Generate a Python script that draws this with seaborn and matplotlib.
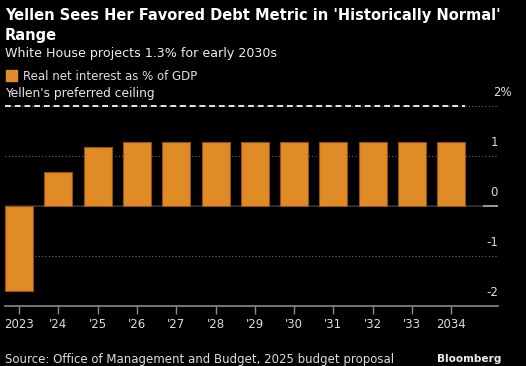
import matplotlib
matplotlib.use("Agg")
import matplotlib.pyplot as plt
import matplotlib.patches as mpatches
import seaborn as sns
import pandas as pd

years = ["2023", "'24", "'25", "'26", "'27", "'28", "'29", "'30", "'31", "'32", "'33", "2034"]
real_net_interest = [-1.69, 0.69, 1.18, 1.28, 1.28, 1.28, 1.28, 1.28, 1.28, 1.28, 1.28, 1.28]
y_ticks = [-2, -1, 0, 1, 2]
y_labels = ["-2", "-1", "0", "1", "2%"]
ceiling = 2

ORANGE = "#e08b26"
W, H = 526, 366

sns.set_theme(style="dark", rc={"figure.facecolor": "black", "axes.facecolor": "black"})
plt.rcParams["font.family"] = ["DejaVu Sans"]

df = pd.DataFrame({"year": years, "value": real_net_interest})

fig = plt.figure(figsize=(W / 100, H / 100), dpi=100)
# axes: x 5..498 px, y 91..306 px
ax = fig.add_axes([5 / W, (H - 306) / H, 493 / W, 215 / H])
ax.set_facecolor("black")

sns.barplot(data=df, x="year", y="value", color=ORANGE, width=0.71,
            edgecolor="#8a5416", linewidth=0.8, saturation=1, ax=ax, zorder=3)

ax.set_xlim(-0.36, 12.19)
ax.set_ylim(-2, 2.3)

# gridlines
for t in y_ticks[1:]:
    ax.axhline(t, color="#6a6a6a", lw=0.8, ls=(0, (1, 2)), zorder=1)
ax.axhline(0, color="#333333", lw=1.2, zorder=2)
ax.hlines(0, 11.8, 12.19, color="#9a9a9a", lw=1.4, zorder=2)
# ceiling line
ax.hlines(ceiling, -0.36, 11.36, color="#e6e6e6", lw=1.4, ls=(0, (3, 2)), zorder=4)
ax.text(0.0, ceiling + 0.12, "Yellen's preferred ceiling", transform=ax.get_yaxis_transform(),
        color="#e6e6e6", fontsize=8.8, ha="left", va="bottom")

# y labels above gridlines on right
ytrans = ax.get_yaxis_transform()
for t, lab in zip(y_ticks, y_labels):
    if lab.endswith("%"):
        ax.text(1 - 5 / 493, t + 0.28, lab, transform=ytrans,
                color="#dddddd", fontsize=8.5, ha="left", va="center")
    else:
        ax.text(1.0, t + 0.28, lab, transform=ytrans,
                color="#dddddd", fontsize=8.5, ha="right", va="center")

ax.set_yticks([])
ax.set_xlabel("")
ax.set_ylabel("")
for side in ["top", "right", "left"]:
    ax.spines[side].set_visible(False)
ax.spines["bottom"].set_visible(True)
ax.spines["bottom"].set_color("#8a8a8a")
ax.spines["bottom"].set_linewidth(1.2)
ax.tick_params(axis="x", colors="#8a8a8a", length=6, width=1, direction="out",
               labelcolor="#dddddd", labelsize=8.5, pad=3, bottom=True)

# header
fig.text(5 / W, 1 - 20 / H, "Yellen Sees Her Favored Debt Metric in 'Historically Normal'",
         color="white", fontsize=10.5, fontweight="bold", ha="left", va="baseline")
fig.text(5 / W, 1 - 40 / H, "Range", color="white", fontsize=10.5, fontweight="bold",
         ha="left", va="baseline")
fig.text(5 / W, 1 - 57 / H, "White House projects 1.3% for early 2030s",
         color="#eeeeee", fontsize=9.1, ha="left", va="baseline")
fig.patches.append(mpatches.Rectangle((6 / W, 1 - 81 / H), 11 / W, 11 / H,
                                      transform=fig.transFigure, color=ORANGE))
fig.text(23 / W, 1 - 80 / H, "Real net interest as % of GDP",
         color="#dddddd", fontsize=8.5, ha="left", va="baseline")

# footer
fig.text(5 / W, 1 - 363 / H, "Source: Office of Management and Budget, 2025 budget proposal",
         color="#dddddd", fontsize=8.45, ha="left", va="baseline")
fig.text(501 / W, 1 - 362 / H, "Bloomberg", color="#eeeeee", fontsize=7.6,
         fontweight="bold", ha="right", va="baseline")

fig.savefig("out.png", dpi=100, facecolor="black")
